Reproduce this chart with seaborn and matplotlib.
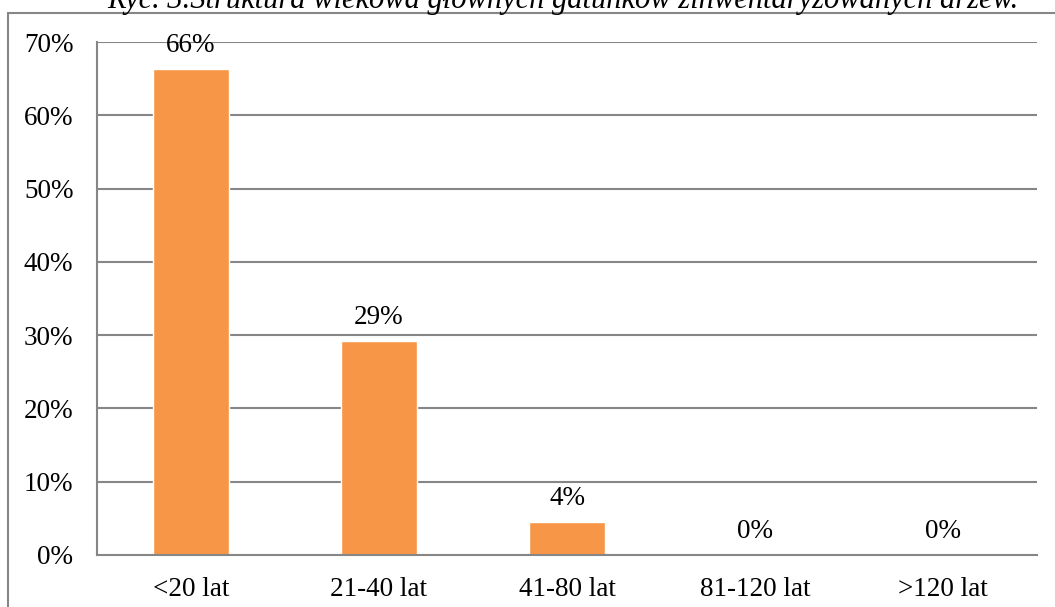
import numpy as np
import pandas as pd
import seaborn as sns
from matplotlib import pyplot as plt
from matplotlib.lines import Line2D

# data
categories = ['<20 lat', '21-40 lat', '41-80 lat', '81-120 lat', '>120 lat']
shares = [66.3, 29.2, 4.5, 0.0, 0.0]
labels = ['66%', '29%', '4%', '0%', '0%']
yticks = [0, 10, 20, 30, 40, 50, 60, 70]

df = pd.DataFrame({'wiek': categories, 'udzial': shares})

sns.set_theme(style='white')
plt.rcParams['font.family'] = ['Liberation Serif', 'DejaVu Serif']
plt.rcParams['text.color'] = 'black'
plt.rcParams['xtick.color'] = 'black'
plt.rcParams['ytick.color'] = 'black'

fs = 19.5

fig = plt.figure(figsize=(10.55, 6.07), dpi=100)
ax = fig.add_axes([97 / 1055, 1 - 555 / 607, 940 / 1055, 513 / 607])

sns.barplot(data=df, x='wiek', y='udzial', color='#F79646', saturation=1,
            width=0.4, ax=ax)

ax.set_ylim(0, 70)
ax.set_xlim(-0.5, 4.5)
ax.set_yticks(yticks)
ax.set_yticklabels([f'{t}%' for t in yticks], fontsize=fs)
ax.tick_params(axis='x', labelsize=fs, pad=16, length=0)
ax.tick_params(axis='y', pad=17, length=0)
ax.set_xlabel('')
ax.set_ylabel('')

# gridlines behind bars
for t in yticks[1:]:
    ax.axhline(t, color='#868686', lw=1.5, zorder=0)
ax.set_axisbelow(True)

for s in ['top', 'right']:
    ax.spines[s].set_visible(False)
for s in ['left', 'bottom']:
    ax.spines[s].set_color('#868686')
    ax.spines[s].set_linewidth(1.5)

# value labels
for i, (v, lab) in enumerate(zip(shares, labels)):
    ax.annotate(lab, (i, v), xytext=(0, 8), textcoords='offset points',
                ha='center', va='bottom', fontsize=fs)

# outer frame of the chart area
fig.add_artist(Line2D([8 / 1055, 1], [1 - 13 / 607, 1 - 13 / 607],
                      transform=fig.transFigure, color='#868686', lw=1.5))
fig.add_artist(Line2D([8 / 1055, 8 / 1055], [0, 1 - 13 / 607],
                      transform=fig.transFigure, color='#868686', lw=1.5))

# title (cut off at top in the original)
fig.text(563 / 1055, 1 - 8 / 607,
         'Ryc. 3.Struktura wiekowa głównych gatunków zinwentaryzowanych drzew.',
         ha='center', va='baseline', fontsize=22, style='italic')

fig.savefig('out.png', dpi=100)
